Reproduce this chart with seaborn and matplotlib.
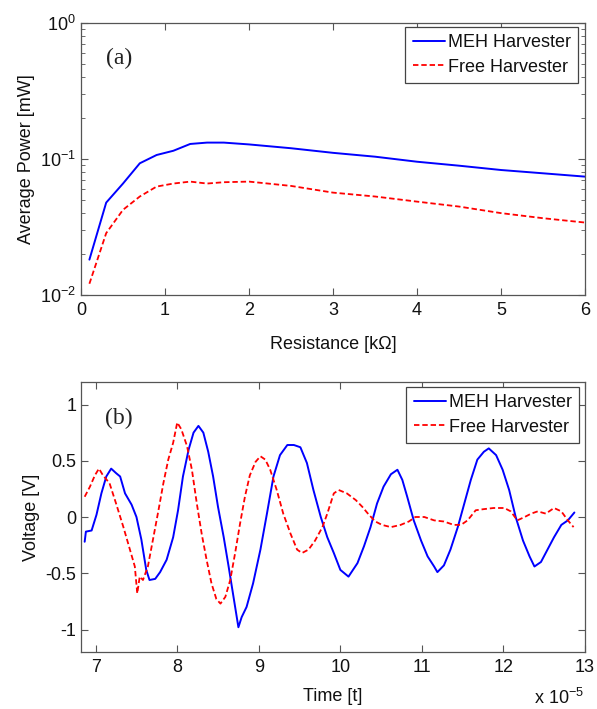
import numpy as np
import pandas as pd
import matplotlib
matplotlib.use("Agg")
import matplotlib.pyplot as plt
import seaborn as sns
from matplotlib.ticker import LogLocator, FixedLocator

# ---------------- data ----------------
# (a) average power vs resistance
res_k = [0.1, 0.3, 0.5, 0.7, 0.9, 1.1, 1.3, 1.5, 1.7, 2.0, 2.5, 3.0, 3.5, 4.0, 4.5, 5.0, 5.5, 6.0]
meh_power = [0.0182, 0.0478, 0.066, 0.093, 0.107, 0.115, 0.129, 0.132, 0.132, 0.128,
             0.120, 0.111, 0.104, 0.0955, 0.0893, 0.083, 0.0785, 0.0742]
free_power = [0.0121, 0.0285, 0.0423, 0.053, 0.0627, 0.066, 0.0682, 0.066, 0.0675, 0.0682,
              0.0634, 0.0566, 0.053, 0.0486, 0.0447, 0.040, 0.0367, 0.0341]

# (b) voltage vs time (time in units of 1e-5 s)
meh_t = [6.865, 6.88, 6.95, 7.01, 7.07, 7.13, 7.19, 7.25, 7.30, 7.36, 7.44, 7.50, 7.56, 7.62,
         7.66, 7.73, 7.79, 7.87, 7.95, 8.01, 8.07, 8.14, 8.20, 8.26, 8.32, 8.38, 8.44, 8.50,
         8.57, 8.63, 8.69, 8.75, 8.79, 8.85, 8.93, 9.02, 9.10, 9.18, 9.26, 9.35, 9.43, 9.51,
         9.59, 9.67, 9.76, 9.84, 9.92, 10.0, 10.10, 10.21, 10.29, 10.37, 10.45, 10.53, 10.62,
         10.70, 10.76, 10.82, 10.90, 10.99, 11.07, 11.15, 11.19, 11.27, 11.35, 11.44, 11.52,
         11.60, 11.68, 11.76, 11.82, 11.91, 11.99, 12.07, 12.15, 12.24, 12.32, 12.38, 12.46,
         12.54, 12.62, 12.71, 12.79, 12.87]
meh_v = [-0.22, -0.13, -0.12, 0.02, 0.21, 0.36, 0.43, 0.39, 0.36, 0.21, 0.11, 0.0, -0.2, -0.47,
         -0.56, -0.55, -0.49, -0.38, -0.18, 0.06, 0.36, 0.60, 0.75, 0.81, 0.75, 0.58, 0.36, 0.09,
         -0.18, -0.44, -0.71, -0.98, -0.89, -0.80, -0.59, -0.29, 0.03, 0.36, 0.55, 0.64, 0.64, 0.62,
         0.48, 0.24, 0.0, -0.18, -0.32, -0.47, -0.53, -0.41, -0.26, -0.09, 0.12, 0.27, 0.38,
         0.42, 0.33, 0.18, -0.03, -0.21, -0.35, -0.44, -0.49, -0.43, -0.29, -0.09, 0.12,
         0.33, 0.51, 0.58, 0.61, 0.55, 0.42, 0.24, 0.0, -0.21, -0.35, -0.44, -0.40,
         -0.29, -0.18, -0.07, -0.03, 0.04]

free_t = [6.865, 6.93, 6.99, 7.04, 7.09, 7.17, 7.25, 7.34, 7.42, 7.48, 7.51, 7.54, 7.58, 7.64,
          7.70, 7.77, 7.83, 7.89, 7.95, 8.00, 8.05, 8.12, 8.18, 8.24, 8.30, 8.36, 8.42, 8.48,
          8.53, 8.59, 8.65, 8.71, 8.77, 8.83, 8.89, 8.96, 9.02, 9.08, 9.14, 9.22, 9.30, 9.39,
          9.47, 9.53, 9.61, 9.69, 9.78, 9.84, 9.92, 9.98, 10.08, 10.19, 10.27, 10.35, 10.43,
          10.51, 10.62, 10.74, 10.84, 10.92, 11.03, 11.15, 11.27, 11.39, 11.48, 11.56, 11.66,
          11.76, 11.88, 12.01, 12.09, 12.17, 12.26, 12.34, 12.42, 12.52, 12.62, 12.71, 12.79, 12.86]
free_v = [0.18, 0.27, 0.37, 0.43, 0.37, 0.30, 0.12, -0.09, -0.29, -0.44, -0.68, -0.53, -0.56, -0.44,
          -0.21, 0.06, 0.30, 0.51, 0.66, 0.84, 0.78, 0.63, 0.42, 0.12, -0.15, -0.38, -0.59, -0.73,
          -0.77, -0.71, -0.56, -0.32, -0.06, 0.18, 0.37, 0.49, 0.54, 0.51, 0.42, 0.24, 0.03, -0.15,
          -0.29, -0.32, -0.29, -0.21, -0.09, 0.03, 0.21, 0.24, 0.21, 0.15, 0.09, 0.02, -0.04,
          -0.07, -0.09, -0.07, -0.04, 0.0, 0.0, -0.03, -0.04, -0.07, -0.07, -0.03, 0.06,
          0.07, 0.08, 0.08, 0.05, -0.03, 0.0, 0.03, 0.05, 0.03, 0.08, 0.05, -0.03, -0.09]

x_ticks_b = [7, 8, 9, 10, 11, 12, 13]
y_ticks_b = [-1, -0.5, 0, 0.5, 1]
y_labels_b = ['-1', '-0.5', '0', '0.5', '1']
x_ticks_a = [0, 1, 2, 3, 4, 5, 6]

# ---------------- style ----------------
sns.set_style("ticks")
plt.rcParams['font.family'] = ['Liberation Sans', 'DejaVu Sans']
plt.rcParams['mathtext.fontset'] = 'custom'
plt.rcParams['mathtext.rm'] = 'Liberation Sans'
plt.rcParams['mathtext.it'] = 'Liberation Sans:italic'

FS = 13
BLUE = '#0000ff'
RED = '#ff0000'
SPINE = '#555555'
DASH = (0, (3.0, 1.6))

fig = plt.figure(figsize=(5.97, 7.09), dpi=100)
W, H = 597, 709

def axes_px(l, t, r, b):
    return fig.add_axes([l / W, 1 - b / H, (r - l) / W, (b - t) / H])

def style_axes(ax):
    for s in ax.spines.values():
        s.set_color(SPINE)
        s.set_linewidth(0.9)
    ax.tick_params(which='both', direction='in', top=True, right=True,
                   color=SPINE, labelsize=FS, labelcolor='#111111')
    ax.tick_params(which='major', length=5, width=0.8)
    ax.tick_params(which='minor', length=3, width=0.6)
    ax.tick_params(axis='x', which='major', pad=5)

def make_legend(ax, anchor):
    leg = ax.legend(loc='upper right', bbox_to_anchor=anchor, borderaxespad=0,
                    fontsize=FS, frameon=True, fancybox=False, framealpha=1,
                    edgecolor='#444444', handlelength=1.8, handletextpad=0.15,
                    labelspacing=0.4, borderpad=0.4)
    leg.get_frame().set_linewidth(0.9)
    for t in leg.get_texts():
        t.set_color('#111111')

# ---------------- (a) ----------------
ax1 = axes_px(81, 23, 585, 295)
dfa_m = pd.DataFrame({'R': res_k, 'P': meh_power})
dfa_f = pd.DataFrame({'R': res_k, 'P': free_power})
sns.lineplot(data=dfa_m, x='R', y='P', ax=ax1,
             color=BLUE, lw=1.4, estimator=None, label='MEH Harvester')
sns.lineplot(data=dfa_f, x='R', y='P', ax=ax1,
             color=RED, lw=1.3, estimator=None, label='Free Harvester', linestyle=DASH)
ax1.set_yscale('log')
ax1.set_xlim(0, 6)
ax1.set_ylim(1e-2, 1e0)
ax1.xaxis.set_major_locator(FixedLocator(x_ticks_a))
ax1.yaxis.set_major_locator(LogLocator(base=10, numticks=10))
ax1.yaxis.set_minor_locator(LogLocator(base=10, subs=np.arange(2, 10), numticks=20))
style_axes(ax1)
ax1.set_xlabel('Resistance [k\u03a9]', fontsize=FS, color='#111111', labelpad=12)
ax1.set_ylabel('Average Power [mW]', fontsize=FS, color='#111111', labelpad=4)
ax1.text((119 - 81) / 504, (295 - 58) / 272, '(a)', transform=ax1.transAxes,
         fontsize=17, family='Liberation Serif', ha='center', va='center', color='#222222')
make_legend(ax1, (0.986, 0.985))

# ---------------- (b) ----------------
ax2 = axes_px(81, 382, 585, 652)
dfb_m = pd.DataFrame({'t': meh_t, 'V': meh_v})
dfb_f = pd.DataFrame({'t': free_t, 'V': free_v})
sns.lineplot(data=dfb_m, x='t', y='V', ax=ax2, color=BLUE, lw=1.4,
             estimator=None, label='MEH Harvester')
sns.lineplot(data=dfb_f, x='t', y='V', ax=ax2, color=RED, lw=1.3,
             estimator=None, label='Free Harvester', linestyle=DASH)
ax2.set_xlim(6.82, 13.0)
ax2.set_ylim(-1.2, 1.2)
ax2.xaxis.set_major_locator(FixedLocator(x_ticks_b))
ax2.yaxis.set_major_locator(FixedLocator(y_ticks_b))
ax2.set_yticklabels(y_labels_b)
style_axes(ax2)
ax2.set_xlabel('Time [t]', fontsize=FS, color='#111111', labelpad=9)
ax2.set_ylabel('Voltage [V]', fontsize=FS, color='#111111', labelpad=4)
ax2.text((119 - 81) / 504, (652 - 418) / 270, '(b)', transform=ax2.transAxes,
         fontsize=17, family='Liberation Serif', ha='center', va='center', color='#222222')
make_legend(ax2, (0.988, 0.981))
fig.text(584 / W, 1 - 698 / H, 'x 10$^{-5}$', ha='right', va='center',
         fontsize=FS, color='#111111')

fig.savefig('out.png', dpi=100)
